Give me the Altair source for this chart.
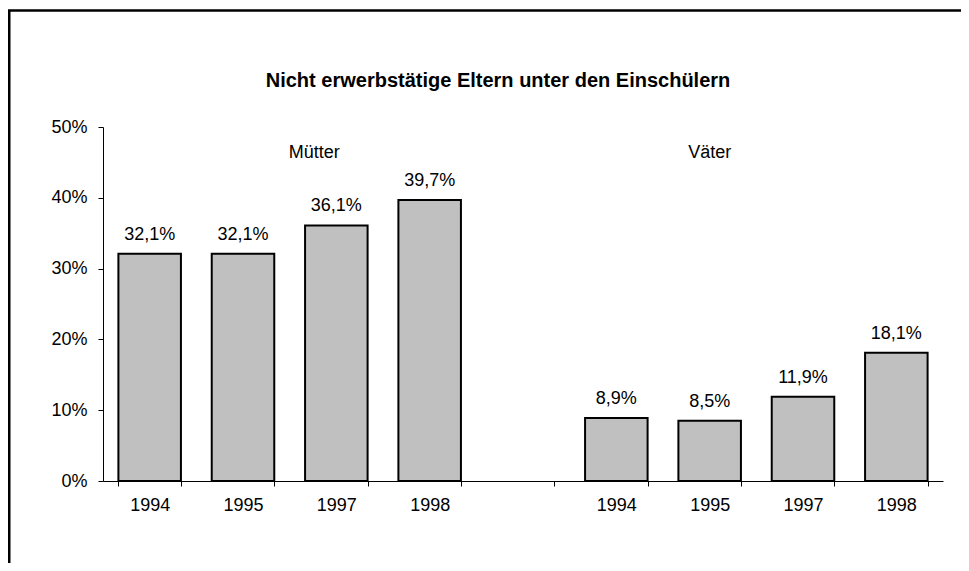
import altair as alt
import pandas as pd

# ---- data -------------------------------------------------------------
slots = ["M1994", "M1995", "M1997", "M1998", "gap", "V1994", "V1995", "V1997", "V1998"]
bar_slots = ["M1994", "M1995", "M1997", "M1998", "V1994", "V1995", "V1997", "V1998"]
values = [32.1, 32.1, 36.1, 39.7, 8.9, 8.5, 11.9, 18.1]
groups = ["Mütter", "Väter"]
group_slots = ["M1997", "V1995"]
group_dx = [-22, 0]
group_level = [0.463, 0.463]
y_ticks = [0, 0.1, 0.2, 0.3, 0.4, 0.5]
title_text = "Nicht erwerbstätige Eltern unter den Einschülern"

bars = pd.DataFrame({"slot": bar_slots, "v": [x / 100 for x in values]})
bars["label"] = [f"{x:.1f}%".replace(".", ",") for x in values]
frame = pd.DataFrame({"a": [0]})
title_df = pd.DataFrame({"t": [title_text]})

FONT = "Liberation Sans"
FS = 18

x_scale = alt.Scale(domain=slots, paddingInner=0.33, paddingOuter=0.165)
y_scale = alt.Scale(domain=[0, 0.5], nice=False)

x_enc = alt.X(
    "slot:N",
    scale=x_scale,
    axis=alt.Axis(
        title=None,
        labelAngle=0,
        labelExpr="isString(datum.value) && datum.value != 'gap' ? substring(datum.value, 1) : ''",
        tickBand="extent",
        tickSize=5,
        labelPadding=10,
        labelFont=FONT, labelFontSize=FS, labelColor="black",
        domainColor="black", tickColor="black",
    ),
)

bar_layer = alt.Chart(bars).mark_bar(
    color="#c0c0c0", stroke="black", strokeWidth=2
).encode(
    x=x_enc,
    y=alt.Y(
        "v:Q",
        scale=y_scale,
        axis=alt.Axis(title=None, format=".0%", values=y_ticks, grid=False,
                      tickSize=5, labelPadding=11,
                      labelFont=FONT, labelFontSize=FS, labelColor="black",
                      domainColor="black", tickColor="black"),
    ),
)

label_layer = alt.Chart(bars).mark_text(
    dy=-14, baseline="alphabetic", fontSize=FS, font=FONT, color="black"
).encode(
    x=alt.X("slot:N", scale=x_scale),
    y=alt.Y("v:Q", scale=y_scale),
    text="label:N",
)

group_layers = []
for name, slot, dx, lvl in zip(groups, group_slots, group_dx, group_level):
    g = alt.Chart(pd.DataFrame({"slot": [slot], "name": [name], "y": [lvl]})).mark_text(
        fontSize=FS, font=FONT, color="black", baseline="middle", dx=dx
    ).encode(
        x=alt.X("slot:N", scale=x_scale),
        y=alt.Y("y:Q", scale=y_scale),
        text="name:N",
    )
    group_layers.append(g)

title_layer = alt.Chart(title_df).mark_text(
    font=FONT, fontSize=20, fontWeight="bold", color="black", baseline="middle", align="center"
).encode(
    x=alt.value(395), y=alt.value(-46), text="t:N",
)

border = alt.Chart(frame).mark_rect(
    filled=False, stroke="black", strokeWidth=2.5
).encode(
    x=alt.value(-93.75), x2=alt.value(3000),
    y=alt.value(-116.5), y2=alt.value(3000),
)

chart = alt.layer(bar_layer, label_layer, *group_layers, title_layer, border).properties(
    width=840,
    height=354,
    autosize=alt.AutoSizeParams(type="none"),
    padding={"left": 95, "top": 119, "right": 18, "bottom": 82},
).configure(background="white").configure_view(stroke=None)

chart.save("out.html", embed_options={"renderer": "svg", "actions": False})
